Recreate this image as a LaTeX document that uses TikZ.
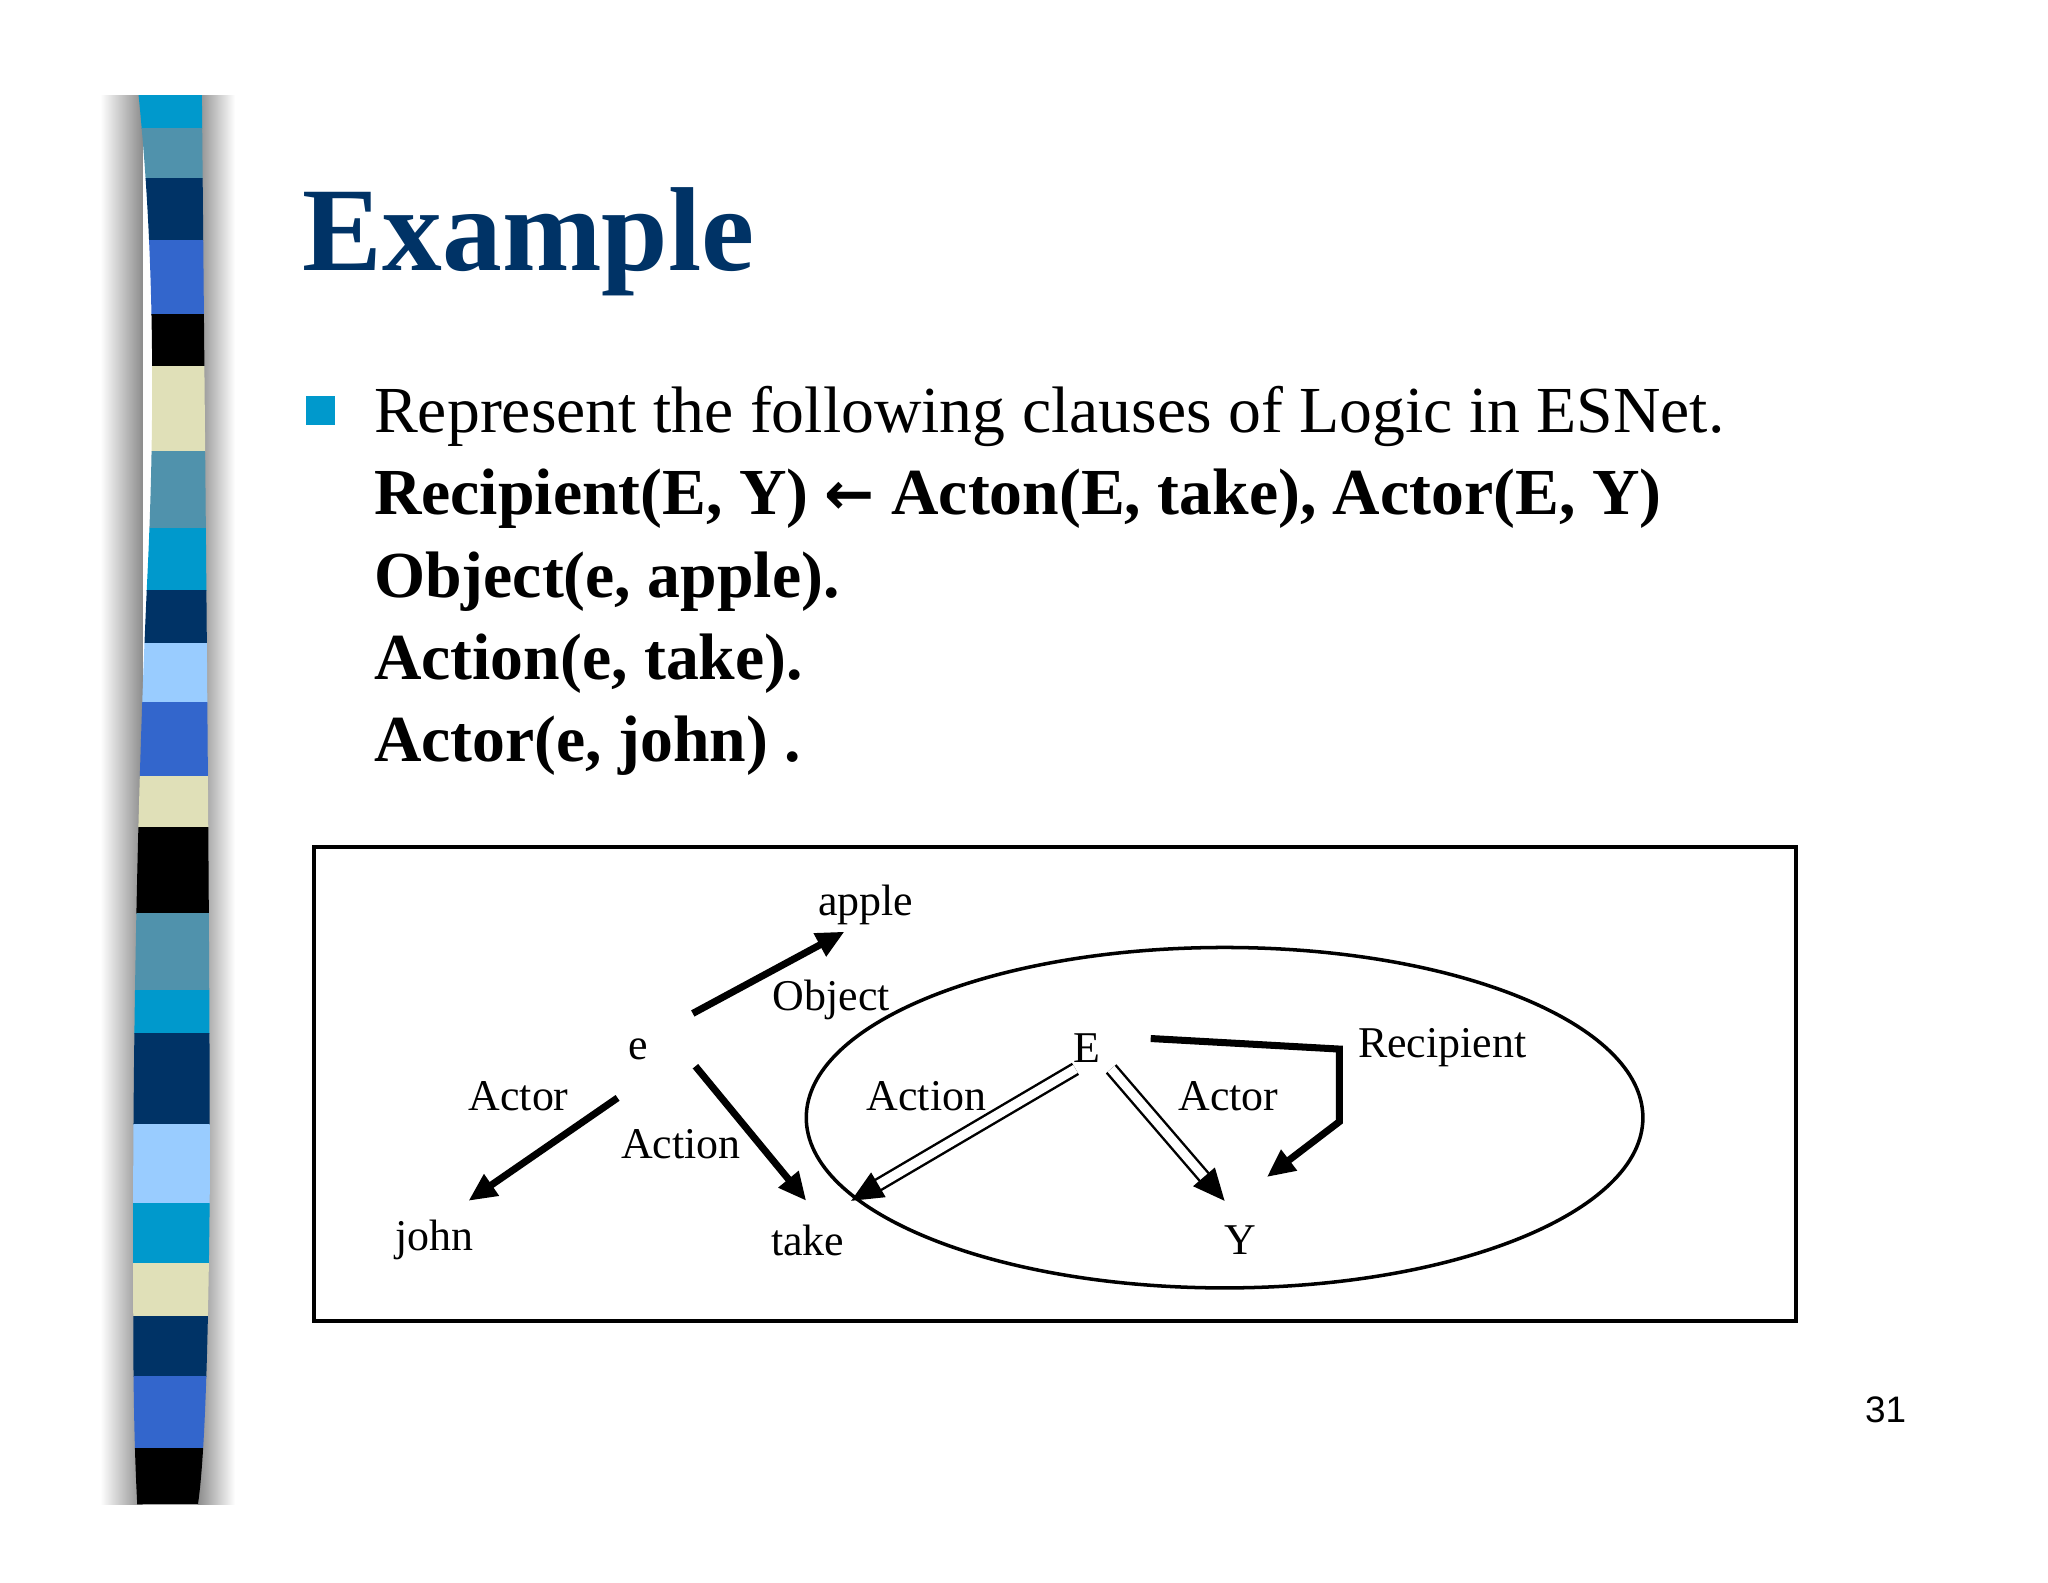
\documentclass[tikz,border=0pt]{standalone}
\usepackage{fontspec}
\setmainfont{Liberation Serif}
\newfontfamily\arrfont{DejaVu Sans}
\newfontfamily\pgfont{Liberation Sans}
\usetikzlibrary{arrows.meta}
\definecolor{tblue}{RGB}{0,51,102}
\definecolor{cy}{RGB}{0,153,204}
\definecolor{st}{RGB}{80,146,172}
\definecolor{nv}{RGB}{0,51,102}
\definecolor{ry}{RGB}{51,102,204}
\definecolor{cr}{RGB}{224,224,184}
\definecolor{lb}{RGB}{153,204,255}
\definecolor{bk}{RGB}{0,0,0}
\tikzset{
 lbl/.style={font=\fontsize{12.5pt}{14pt}\selectfont, inner sep=0pt},
 thk/.style={line width=2pt, -{Triangle[length=8pt,width=7pt]}},
 dbl/.style={double, line width=0.7pt, double distance=2.6pt, -{Triangle[length=9pt,width=8pt]}},
 body/.style={anchor=base west, inner sep=0pt, font=\fontsize{18.7pt}{22pt}\selectfont}
}
\begin{document}
\begin{tikzpicture}[x=0.013196cm,y=-0.013196cm]
\useasboundingbox (0,0) rectangle (1552,1199);
\fill[white] (0,0) rectangle (1552,1199);
% shadow
\shade[left color=white, right color=black!45] (76,72) rectangle (108,1140);
\shade[left color=black!45, right color=white] (150,72) rectangle (178,1140);
% stripes
\begin{scope}
\clip (105,72) .. controls (116,180) and (118,300) .. (112,430) .. controls (104,600) and (100,800) .. (101,1000) .. controls (101,1080) and (103,1120) .. (104,1140) -- (150,1140) .. controls (156,1100) and (158,1000) .. (159,900) .. controls (159,700) and (156,400) .. (153,72) -- cycle;
\foreach \a/\b/\c in {72/97/cy,97/135/st,135/182/nv,182/238/ry,238/277/bk,277/342/cr,342/400/st,400/447/cy,447/487/nv,487/532/lb,532/588/ry,588/627/cr,627/692/bk,692/750/st,750/783/cy,783/852/nv,852/912/lb,912/957/cy,957/997/cr,997/1043/nv,1043/1097/ry,1097/1140/bk}
 \fill[\c] (90,\a) rectangle (170,\b+0.5);
\end{scope}
% title
\node[anchor=base west, inner sep=0pt, text=tblue, font=\fontsize{34pt}{40pt}\selectfont\bfseries] (title) at (229,205) {Example};
\fill[cy] (232,300) rectangle (254,322);
\node[body] (l1) at (283,328) {Represent the following clauses of Logic in ESNet.};
\node[body] (l2) at (283,390) {\bfseries Recipient(E, Y) {\arrfont\bfseries\fontsize{17pt}{20pt}\selectfont ←} Acton(E, take), Actor(E, Y)};
\node[body] (l3) at (283,453) {\bfseries Object(e, apple).};
\node[body] (l4) at (283,515) {\bfseries Action(e, take).};
\node[body] (l5) at (283,577) {\bfseries Actor(e, john) .};
\node[anchor=base east, inner sep=0pt, font=\pgfont\fontsize{10.5pt}{12pt}\selectfont] (pg) at (1445,1078) {31};
% diagram
\draw[line width=1pt] (238,642) rectangle (1361,1001);
\draw[line width=1pt] (928,847) ellipse [x radius=317, y radius=129];
\node[lbl] (apple) at (656,686) {apple};
\node[lbl] (lobj) at (630,758) {Object};
\node[lbl] (e) at (484,795) {e};
\node[lbl] (lact1) at (393,831) {Actor};
\node[lbl] (lacn1) at (516,867) {Action};
\node[lbl] (john) at (329,940) {john};
\node[lbl] (take) at (612,940) {take};
\node[lbl] (E) at (824,794) {E};
\node[lbl] (lacn2) at (702,831) {Action};
\node[lbl] (lact2) at (931,831) {Actor};
\node[lbl] (rec) at (1093,794) {Recipient};
\node[lbl] (Y) at (940,940) {Y};
\coordinate (a1) at (525,768); \coordinate (a2) at (640,706);
\coordinate (b1) at (527,808); \coordinate (b2) at (611,910);
\coordinate (c1) at (468,832); \coordinate (c2) at (355,910);
\coordinate (d1) at (815,810); \coordinate (d2) at (645,910);
\coordinate (f1) at (842,810); \coordinate (f2) at (928,910);
\coordinate (r1) at (872,787); \coordinate (r2) at (1015,795); \coordinate (r3) at (1015,850); \coordinate (r4) at (960,892);
\draw[thk] (a1) -- (a2);
\draw[thk] (b1) -- (b2);
\draw[thk] (c1) -- (c2);
\draw[dbl] (d1) -- (d2);
\draw[dbl] (f1) -- (f2);
\draw[thk, line join=miter] (r1) -- (r2) -- (r3) -- (r4);
\end{tikzpicture}
\end{document}
